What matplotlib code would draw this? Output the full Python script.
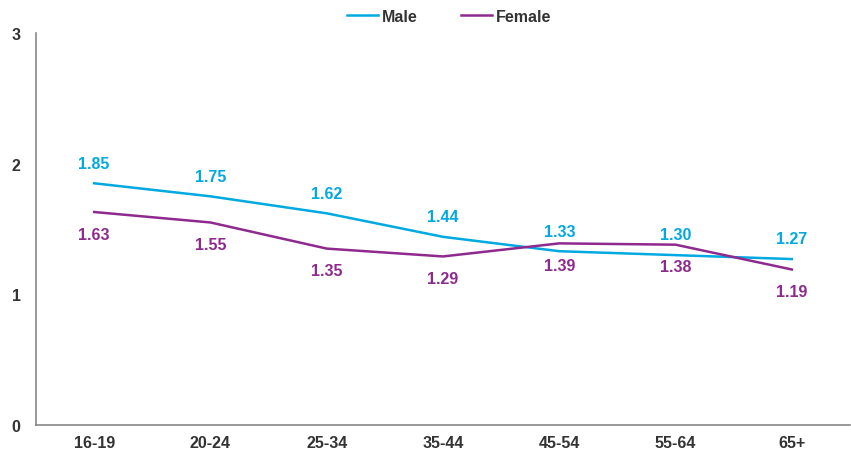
import matplotlib
matplotlib.use("Agg")
import matplotlib.pyplot as plt

categories = ["16-19", "20-24", "25-34", "35-44", "45-54", "55-64", "65+"]
male = [1.85, 1.75, 1.62, 1.44, 1.33, 1.30, 1.27]
female = [1.63, 1.55, 1.35, 1.29, 1.39, 1.38, 1.19]

male_color = "#00A9E0"
female_color = "#8E2A8E"
text_color = "#333333"

plt.rcParams['font.family'] = ['Liberation Sans', 'DejaVu Sans']

fig = plt.figure(figsize=(8.51, 4.56), dpi=100)
ax = fig.add_axes([36/851, 30/456, 814/851, 392/456])

x = list(range(len(categories)))
ax.plot(x, male, color=male_color, lw=1.8, label="Male")
ax.plot(x, female, color=female_color, lw=1.8, label="Female")

for xi, v in zip(x, male):
    ax.annotate(f"{v:.2f}", (xi, v), xytext=(0, 14.5), textcoords="offset points",
                ha="center", va="center", color=male_color, fontsize=11.5, fontweight="bold")
for xi, v in zip(x, female):
    ax.annotate(f"{v:.2f}", (xi, v), xytext=(0, -16), textcoords="offset points",
                ha="center", va="center", color=female_color, fontsize=11.5, fontweight="bold")

ax.set_xlim(-0.5, 6.5)
ax.set_ylim(0, 3)
ax.set_yticks([0, 1, 2, 3])
ax.set_xticks(x)
ax.set_xticklabels(categories)
for lab in ax.get_xticklabels() + ax.get_yticklabels():
    lab.set_fontweight("bold")
    lab.set_color(text_color)
    lab.set_fontsize(11.5)
ax.tick_params(axis="both", length=0)
ax.tick_params(axis="x", pad=7)
ax.tick_params(axis="y", pad=11)

for s in ["top", "right"]:
    ax.spines[s].set_visible(False)
for s in ["left", "bottom"]:
    ax.spines[s].set_color("#888888")
    ax.spines[s].set_linewidth(1.2)

leg = fig.legend(loc="center", bbox_to_anchor=(449/851, 1 - 17/456), ncol=2, frameon=False,
                 prop={"weight": "bold", "size": 11.5}, handlelength=1.95, handletextpad=0.25,
                 columnspacing=2.7)
for t in leg.get_texts():
    t.set_color(text_color)

fig.savefig("out.png", dpi=100)
